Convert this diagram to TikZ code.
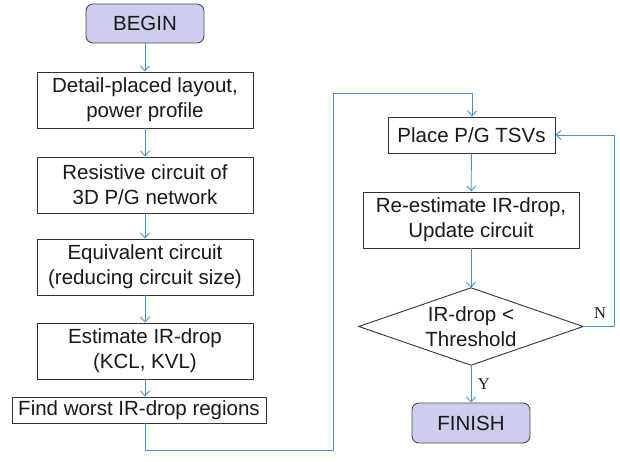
\documentclass[tikz,border=0pt]{standalone}
\usepackage{fontspec}
\setmainfont{Liberation Sans}
\newfontfamily\lblfont{Liberation Serif}
\usetikzlibrary{arrows.meta}
\definecolor{flowblue}{RGB}{66,146,208}
\definecolor{termfill}{RGB}{205,205,238}
\definecolor{txt}{RGB}{25,25,25}
\begin{document}
\begin{tikzpicture}[x=1pt,y=-1pt,
  every node/.style={text=txt,font=\fontsize{20.5}{25}\selectfont},
  procbox/.style={draw=black!80,line width=0.9pt,fill=white,align=center,inner sep=0pt},
  termbox/.style={draw=black!70,line width=0.9pt,fill=termfill,rounded corners=7pt,inner sep=0pt,minimum width=118pt,minimum height=39pt},
  decbox/.style={align=center,inner sep=0pt,minimum width=224pt,minimum height=77pt},
  decline/.style={draw=black!80,line width=0.9pt},
  flow/.style={draw=flowblue,line width=0.9pt,-{Straight Barb[length=5pt,width=9pt]}},
  yn/.style={font=\lblfont\fontsize{16.5}{18}\selectfont}]
\useasboundingbox (0,0) rectangle (620,462);
\node[termbox] (begin) at (145,23.5) {BEGIN};
\node[procbox,minimum width=216pt,minimum height=56pt] (b1) at (145,100) {Detail-placed layout,\\power profile};
\node[procbox,minimum width=216pt,minimum height=56pt] (b2) at (145,185) {Resistive circuit of\\3D P/G network};
\node[procbox,minimum width=216pt,minimum height=56pt] (b3) at (145,267) {Equivalent circuit\\(reducing circuit size)};
\node[procbox,minimum width=216pt,minimum height=56pt] (b4) at (145,351) {Estimate IR-drop\\(KCL, KVL)};
\node[procbox,minimum width=254pt,minimum height=26pt] (b5) at (139,410) {Find worst IR-drop regions};
\node[procbox,minimum width=167pt,minimum height=36pt] (place) at (471.5,135) {Place P/G TSVs};
\node[procbox,minimum width=216pt,minimum height=56pt] (re) at (471,220) {Re-estimate IR-drop,\\Update circuit};
\node[decbox] (dec) at (471,326.5) {IR-drop <\\Threshold};
\draw[decline] (dec.north) -- (dec.east) -- (dec.south) -- (dec.west) -- cycle;
\node[termbox,minimum height=40pt] (fin) at (471,423) {FINISH};
\coordinate (c1) at (145,450);
\coordinate (c2) at (333,450);
\coordinate (c3) at (333,93);
\coordinate (c4) at (472,93);
\coordinate (c5) at (614,326.5);
\draw[flow] (begin) -- (b1);
\draw[flow] (b1) -- (b2);
\draw[flow] (b2) -- (b3);
\draw[flow] (b3) -- (b4);
\draw[flow] (b4.south) -- (b4.south |- b5.north);
\draw[flow] (b5.south -| c1) -- (c1) -- (c2) -- (c3) -- (c4) -- (place.north -| c4);
\draw[flow] (place) -- (re);
\draw[flow] (re) -- (dec.north);
\draw[flow] (dec.south) -- node[yn,right=3pt,pos=0.5] (ylab) {Y} (fin);
\draw[flow] (dec.east) -- (c5) |- (place.east);
\node[yn] (nlab) at (600,313) {N};
\end{tikzpicture}
\end{document}
